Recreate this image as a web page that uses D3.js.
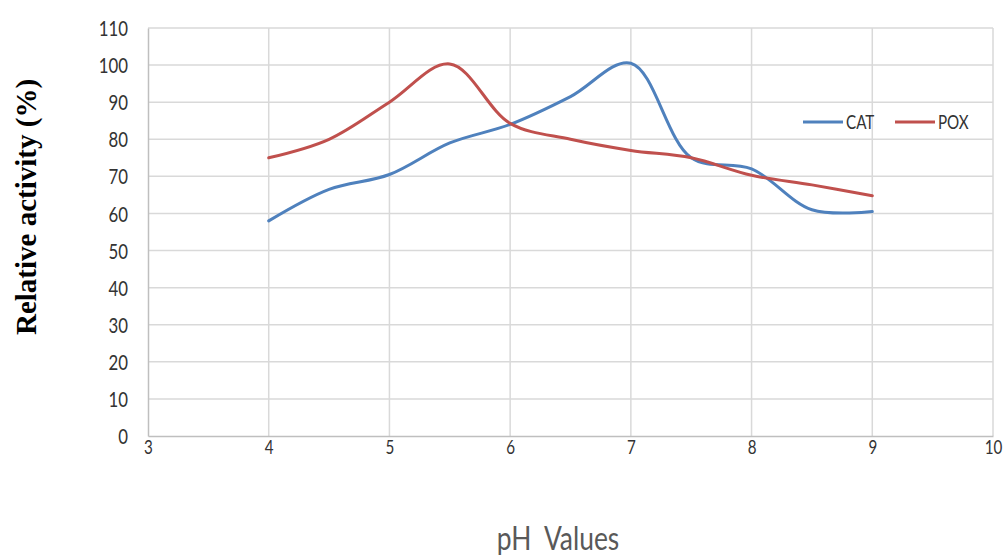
<!DOCTYPE html>
<html>
<head>
<meta charset="utf-8">
<script src="https://cdn.jsdelivr.net/npm/d3@7"></script>
<style>
  body { margin: 0; background: #fff; }
</style>
</head>
<body>
<div id="chart"></div>
<script>
// pH values and relative activity (%)
const phValues = [4, 4.5, 5, 5.5, 6, 6.5, 7, 7.5, 8, 8.5, 9];
const catValues = [58, 66.5, 70.5, 79, 84, 91.5, 100.5, 75, 72, 61, 60.5];
const poxValues = [75, 80, 90, 100.3, 84.3, 80, 77, 75, 70.3, 67.7, 64.8];
const xTicks = [3, 4, 5, 6, 7, 8, 9, 10];
const yTicks = [0, 10, 20, 30, 40, 50, 60, 70, 80, 90, 100, 110];
const seriesNames = ["CAT", "POX"];
const seriesColors = ["#4f81bd", "#c0504d"];

const width = 1005;
const height = 555;
const margin = { top: 28, right: 12, bottom: 119, left: 148 };
const innerWidth = width - margin.left - margin.right;
const innerHeight = height - margin.top - margin.bottom;
const narrow = "Lato, 'Open Sans', sans-serif";

const x = d3.scaleLinear().domain([3, 10]).range([0, innerWidth]);
const y = d3.scaleLinear().domain([0, 110]).range([innerHeight, 0]);

const svg = d3.select("#chart")
  .append("svg")
  .attr("width", width)
  .attr("height", height);

const g = svg.append("g")
  .attr("transform", `translate(${margin.left},${margin.top})`);

// gridlines
g.append("g")
  .selectAll("line")
  .data(yTicks.slice(1))
  .enter()
  .append("line")
  .attr("x1", 0)
  .attr("x2", innerWidth)
  .attr("y1", d => y(d))
  .attr("y2", d => y(d))
  .attr("stroke", "#d9d9d9")
  .attr("stroke-width", 1.5);

g.append("g")
  .selectAll("line")
  .data(xTicks.slice(1))
  .enter()
  .append("line")
  .attr("x1", d => x(d))
  .attr("x2", d => x(d))
  .attr("y1", 0)
  .attr("y2", innerHeight)
  .attr("stroke", "#d9d9d9")
  .attr("stroke-width", 1.5);

// axes (labels squeezed horizontally to look like a condensed font)
const xAxis = g.append("g")
  .attr("transform", `translate(0,${innerHeight})`)
  .call(d3.axisBottom(x).tickValues(xTicks).tickSize(0).tickPadding(0).tickFormat(d3.format("d")));
xAxis.select(".domain").attr("stroke", "#bfbfbf").attr("stroke-width", 1.5);
xAxis.selectAll("text")
  .attr("y", 0)
  .attr("dy", 0)
  .attr("transform", "translate(0,18) scale(0.8,1)")
  .attr("font-family", narrow)
  .attr("font-size", 19)
  .attr("fill", "#333");

const yAxis = g.append("g")
  .call(d3.axisLeft(y).tickValues(yTicks).tickSize(0).tickFormat(d3.format("d")));
yAxis.select(".domain").attr("stroke", "#bfbfbf").attr("stroke-width", 1.5);
yAxis.selectAll("text")
  .attr("x", 0)
  .attr("dy", "0.36em")
  .attr("transform", "translate(-20,0) scale(0.8,1)")
  .attr("font-family", narrow)
  .attr("font-size", 21)
  .attr("fill", "#333");

// lines
const line = d3.line()
  .x(d => x(d[0]))
  .y(d => y(d[1]))
  .curve(d3.curveCatmullRom.alpha(0.5));

[catValues, poxValues].forEach((vals, i) => {
  g.append("path")
    .datum(phValues.map((p, j) => [p, vals[j]]))
    .attr("fill", "none")
    .attr("stroke", seriesColors[i])
    .attr("stroke-width", 3)
    .attr("stroke-linecap", "round")
    .attr("d", line);
});

// legend
const legend = svg.append("g").attr("transform", "translate(803,122)");
seriesNames.forEach((name, i) => {
  const lg = legend.append("g").attr("transform", `translate(${i * 92},0)`);
  lg.append("line")
    .attr("x1", 0).attr("x2", 40)
    .attr("y1", 0).attr("y2", 0)
    .attr("stroke", seriesColors[i])
    .attr("stroke-width", 3);
  lg.append("text")
    .attr("transform", "translate(43,7) scale(0.8,1)")
    .attr("font-family", narrow)
    .attr("font-size", 19)
    .attr("fill", "#333")
    .text(name);
});

// axis titles
svg.append("text")
  .attr("transform", "translate(36,207) rotate(-90)")
  .attr("text-anchor", "middle")
  .attr("font-family", "'Liberation Serif', 'Times New Roman', serif")
  .attr("font-weight", "bold")
  .attr("font-size", 29)
  .attr("fill", "#000")
  .text("Relative activity (%)");

svg.append("text")
  .attr("transform", "translate(558,550) scale(0.8,1)")
  .attr("text-anchor", "middle")
  .attr("font-family", narrow)
  .attr("font-size", 33)
  .attr("fill", "#595959")
  .style("white-space", "pre")
  .text("pH  Values");
</script>
</body>
</html>
